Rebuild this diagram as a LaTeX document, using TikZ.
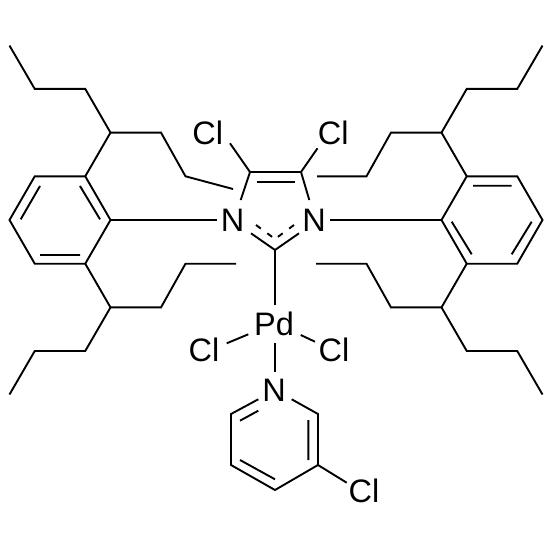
\documentclass[tikz,border=0pt]{standalone}
\usepackage{fontspec}
\setmainfont{Liberation Sans}
\begin{document}
\begin{tikzpicture}[x=1pt,y=-1pt,
  bond/.style={line width=1.9pt},
  dbond/.style={line width=1.9pt, dash pattern=on 6pt off 8pt},
  atomlbl/.style={inner sep=0pt, font=\fontsize{32.5}{33}\selectfont}]
\fill[white] (0,0) rectangle (552,552);
\useasboundingbox (0,0) rectangle (552,552);

% ---------- left aryl ring ----------
\coordinate (L1) at (85.25,176.3);
\coordinate (L2) at (110.5,220);
\coordinate (L3) at (85.25,263.7);
\coordinate (L4) at (34.75,263.7);
\coordinate (L5) at (9.5,220);
\coordinate (L6) at (34.75,176.3);
\coordinate (Li1a) at (20.7,219.3); \coordinate (Li1b) at (40,186);
\coordinate (Li2a) at (80,186);     \coordinate (Li2b) at (100,219.3);
\coordinate (Li3a) at (40,255);     \coordinate (Li3b) at (80,255);
% left chains
\coordinate (a1) at (110.5,132.6); \coordinate (a2) at (85.25,88.9);
\coordinate (a3) at (34.75,88.9);  \coordinate (a4) at (9.5,45.6);
\coordinate (b1) at (161,132.6);   \coordinate (b2) at (185.5,176.3);
\coordinate (b3) at (233,189);
\coordinate (c1) at (110.5,307.4); \coordinate (c2) at (85.25,351);
\coordinate (c3) at (34.75,351);   \coordinate (c4) at (9.5,394.5);
\coordinate (d1) at (161,307.4);   \coordinate (d2) at (185.5,263.7);
\coordinate (d3) at (236,263.7);

% ---------- right aryl ring ----------
\coordinate (R1) at (466.75,176.3);
\coordinate (R2) at (517.25,176.3);
\coordinate (R3) at (542.5,220);
\coordinate (R4) at (517.25,263.7);
\coordinate (R5) at (466.75,263.7);
\coordinate (R6) at (441.5,220);
\coordinate (Ri1a) at (473,185.7);   \coordinate (Ri1b) at (511.7,185.7);
\coordinate (Ri2a) at (451.7,221.7); \coordinate (Ri2b) at (471.7,254.3);
\coordinate (Ri3a) at (511.7,254.3); \coordinate (Ri3b) at (531.7,221.7);
% right chains
\coordinate (e1) at (441.5,132.6); \coordinate (e2) at (466.75,88.9);
\coordinate (e3) at (517.25,88.9); \coordinate (e4) at (542.5,45.6);
\coordinate (f1) at (391,132.6);   \coordinate (f2) at (366.5,176.3);
\coordinate (f3) at (317,176.3);
\coordinate (g1) at (441.5,307.4); \coordinate (g2) at (466.75,351);
\coordinate (g3) at (517.25,351);  \coordinate (g4) at (542.5,394.5);
\coordinate (h1) at (391,307.4);   \coordinate (h2) at (366.5,263.7);
\coordinate (h3) at (316,263.7);

% ---------- imidazole ----------
\node[atomlbl] (N1) at (232.5,220) {N};
\node[atomlbl] (N3) at (314,220) {N};
\coordinate (C2) at (275,250);
\coordinate (C4) at (250,172);
\coordinate (C5) at (301,172);
\coordinate (n1w) at (217,220);
\coordinate (n3e) at (330,220);
\coordinate (n1s) at (251,233.3);
\coordinate (n3s) at (299,233.3);
\coordinate (n1n) at (240.7,200);
\coordinate (n3n) at (309.3,200);
\coordinate (c45a) at (256.7,181.7); \coordinate (c45b) at (295,181.7);
\coordinate (dl1) at (256,225); \coordinate (dm) at (275,239); \coordinate (dr1) at (294,225);
\node[atomlbl] (Cl4) at (207.7,133.3) {Cl};
\node[atomlbl] (Cl5) at (333.3,133.3) {Cl};
\coordinate (cl4e) at (230,143.3);
\coordinate (cl5e) at (317.5,148.3);

% ---------- Pd centre ----------
\node[atomlbl] (Pd) at (274,323.5) {Pd};
\node[atomlbl] (ClA) at (204,350) {Cl};
\node[atomlbl] (ClB) at (334,350) {Cl};
\coordinate (pdt) at (275,305);
\coordinate (pdb) at (275,343);
\coordinate (pdl) at (248.3,334.3); \coordinate (cla) at (226.7,343.3);
\coordinate (pdr) at (300.7,335);   \coordinate (clb) at (315,341.7);

% ---------- 3-chloropyridine ----------
\node[atomlbl] (Np) at (274,390) {N};
\coordinate (npt) at (275,371.7);
\coordinate (P2) at (318,414);
\coordinate (P3) at (318,465);
\coordinate (P4) at (275,490);
\coordinate (P5) at (231,465);
\coordinate (P6) at (231,414);
\coordinate (npr) at (291.7,399.3);
\coordinate (npl) at (258.3,399.3);
\coordinate (Pi1a) at (240,420.7);  \coordinate (Pi1b) at (258.3,410.7);
\coordinate (Pi2a) at (308.3,420);  \coordinate (Pi2b) at (308.3,460);
\coordinate (Pi3a) at (240,460);    \coordinate (Pi3b) at (275,479.3);
\node[atomlbl] (ClP) at (364,490.5) {Cl};
\coordinate (clp) at (346.7,482.7);

% ---------- bonds ----------
\draw[bond] (L1) -- (L2) -- (L3) -- (L4) -- (L5) -- (L6) -- cycle;
\draw[bond] (Li1a) -- (Li1b) (Li2a) -- (Li2b) (Li3a) -- (Li3b);
\draw[bond] (a4) -- (a3) -- (a2) -- (a1) -- (L1);
\draw[bond] (a1) -- (b1) -- (b2) -- (b3);
\draw[bond] (c4) -- (c3) -- (c2) -- (c1) -- (L3);
\draw[bond] (c1) -- (d1) -- (d2) -- (d3);
\draw[bond] (L2) -- (n1w);

\draw[bond] (R1) -- (R2) -- (R3) -- (R4) -- (R5) -- (R6) -- cycle;
\draw[bond] (Ri1a) -- (Ri1b) (Ri2a) -- (Ri2b) (Ri3a) -- (Ri3b);
\draw[bond] (e4) -- (e3) -- (e2) -- (e1) -- (R1);
\draw[bond] (e1) -- (f1) -- (f2) -- (f3);
\draw[bond] (g4) -- (g3) -- (g2) -- (g1) -- (R5);
\draw[bond] (g1) -- (h1) -- (h2) -- (h3);
\draw[bond] (R6) -- (n3e);

\draw[bond] (n1n) -- (C4) -- (C5) -- (n3n);
\draw[bond] (c45a) -- (c45b);
\draw[bond] (n1s) -- (C2) -- (n3s);
\draw[dbond] (dl1) -- (dm);
\draw[dbond] (dr1) -- (dm);
\draw[bond] (C4) -- (cl4e);
\draw[bond] (C5) -- (cl5e);
\draw[bond] (C2) -- (pdt);

\draw[bond] (pdl) -- (cla);
\draw[bond] (pdr) -- (clb);
\draw[bond] (pdb) -- (npt);

\draw[bond] (npr) -- (P2) -- (P3) -- (P4) -- (P5) -- (P6) -- (npl);
\draw[bond] (Pi1a) -- (Pi1b) (Pi2a) -- (Pi2b) (Pi3a) -- (Pi3b);
\draw[bond] (P3) -- (clp);
\end{tikzpicture}
\end{document}
